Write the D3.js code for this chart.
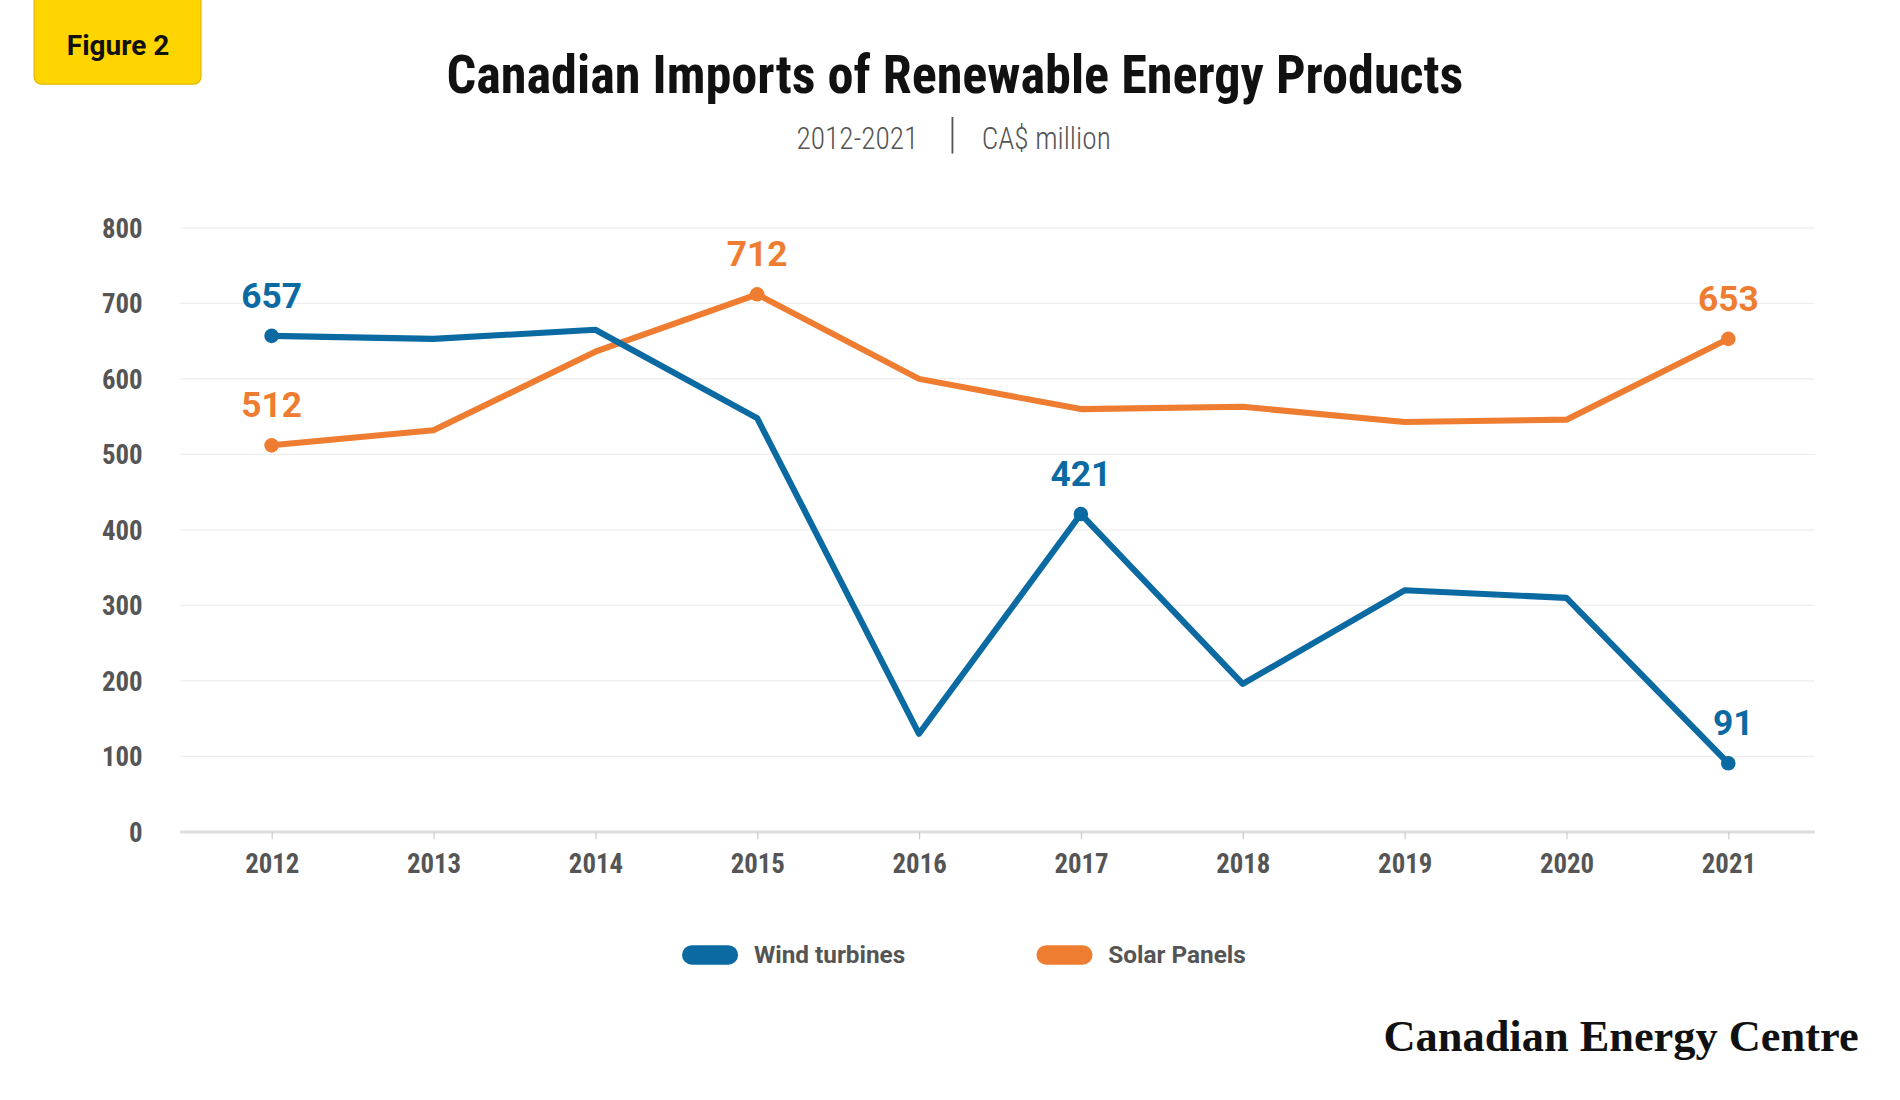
<!DOCTYPE html>
<html><head><meta charset="utf-8">
<script src="https://cdn.jsdelivr.net/npm/d3@7"></script>
<style>body{margin:0;background:#fff}</style></head>
<body><svg id="c" width="1900" height="1100" viewBox="0 0 1560 903"></svg>
<script>
const years=["2012","2013","2014","2015","2016","2017","2018","2019","2020","2021"];
const wind=[657,653,665,548,130,421,196,320,310,91];
const solar=[512,532,636,712,600,560,563,543,546,653];
const yTicks=[0,100,200,300,400,500,600,700,800];
const windLabels=[[0,657],[5,421],[9,91]];
const solarLabels=[[0,512],[3,712],[9,653]];
const BLUE="#0a6aa1",ORANGE="#ef7d31";
const cond="'Liberation Sans Narrow','Roboto Condensed','DejaVu Sans Condensed',sans-serif";
const svg=d3.select("#c");
const x=d3.scalePoint().domain(years).range([223,1419]);
const y=d3.scaleLinear().domain([0,800]).range([683,187]);
svg.append("rect").attr("x",28).attr("y",-10).attr("width",137).attr("height",79).attr("rx",6).attr("fill","#ffd500").attr("stroke","#e0b800");
svg.append("text").attr("x",97).attr("y",45).attr("text-anchor","middle").attr("font-family","Roboto,sans-serif").attr("font-weight",700).attr("font-size",23).attr("fill","#111").text("Figure 2");
svg.append("text").attr("x",784).attr("y",76).attr("text-anchor","middle").attr("font-family",cond).attr("font-weight",700).attr("font-size",44).attr("textLength",835).attr("lengthAdjust","spacingAndGlyphs").attr("fill","#111").text("Canadian Imports of Renewable Energy Products");
svg.append("text").attr("x",704).attr("y",122).attr("text-anchor","middle").attr("font-family",cond).attr("font-weight",300).attr("font-size",26).attr("textLength",100).attr("lengthAdjust","spacingAndGlyphs").attr("fill","#555").text("2012-2021");
svg.append("line").attr("x1",782).attr("x2",782).attr("y1",96).attr("y2",126).attr("stroke","#555").attr("stroke-width",1.5);
svg.append("text").attr("x",859).attr("y",122).attr("text-anchor","middle").attr("font-family",cond).attr("font-weight",300).attr("font-size",26).attr("textLength",106).attr("lengthAdjust","spacingAndGlyphs").attr("fill","#555").text("CA$ million");
svg.append("g").selectAll("line").data(yTicks).join("line").attr("x1",148).attr("x2",1490).attr("y1",d=>y(d)).attr("y2",d=>y(d)).attr("stroke",d=>d===0?"#ddd":"#eee").attr("stroke-width",d=>d===0?2.5:1);
svg.append("g").selectAll("text").data(yTicks).join("text").attr("x",117).attr("y",d=>y(d)+8).attr("text-anchor","end").attr("font-family",cond).attr("font-weight",700).attr("font-size",22).attr("fill","#555").text(d=>d);
const ax=svg.append("g").attr("transform",`translate(0,${y(0)})`).call(d3.axisBottom(x).tickSize(6).tickPadding(12));
ax.select(".domain").remove();
ax.selectAll("line").attr("stroke","#ccc");
ax.selectAll("text").attr("font-family",cond).attr("font-weight",700).attr("font-size",22).attr("fill","#555");
const line=d3.line().x((d,i)=>x(years[i])).y(d=>y(d));
function series(data,col,labels){
  svg.append("path").datum(data).attr("d",line).attr("fill","none").attr("stroke",col).attr("stroke-width",5).attr("stroke-linejoin","round");
  svg.append("g").selectAll("circle").data(labels).join("circle").attr("cx",d=>x(years[d[0]])).attr("cy",d=>y(data[d[0]])).attr("r",6).attr("fill",col);
  svg.append("g").selectAll("text").data(labels).join("text").attr("x",d=>x(years[d[0]])+(d[0]==9&&col==BLUE?4:0)).attr("y",d=>y(data[d[0]])-23).attr("text-anchor","middle").attr("font-family","Roboto,sans-serif").attr("font-weight",700).attr("font-size",29).attr("fill",col).text(d=>d[1]);
}
series(solar,ORANGE,solarLabels);
series(wind,BLUE,windLabels);
[[BLUE,"Wind turbines",560],[ORANGE,"Solar Panels",851]].forEach(([c,t,lx])=>{
  svg.append("rect").attr("x",lx).attr("y",776).attr("width",46).attr("height",16).attr("rx",8).attr("fill",c);
  svg.append("text").attr("x",lx+59).attr("y",791).attr("font-family","Roboto,sans-serif").attr("font-weight",700).attr("font-size",20).attr("fill","#555").text(t);
});
svg.append("text").attr("x",1136).attr("y",863).attr("font-family","'Liberation Serif','DejaVu Serif',serif").attr("font-weight",700).attr("font-size",37).attr("textLength",390).attr("lengthAdjust","spacingAndGlyphs").attr("fill","#111").text("Canadian Energy Centre");
</script></body></html>
